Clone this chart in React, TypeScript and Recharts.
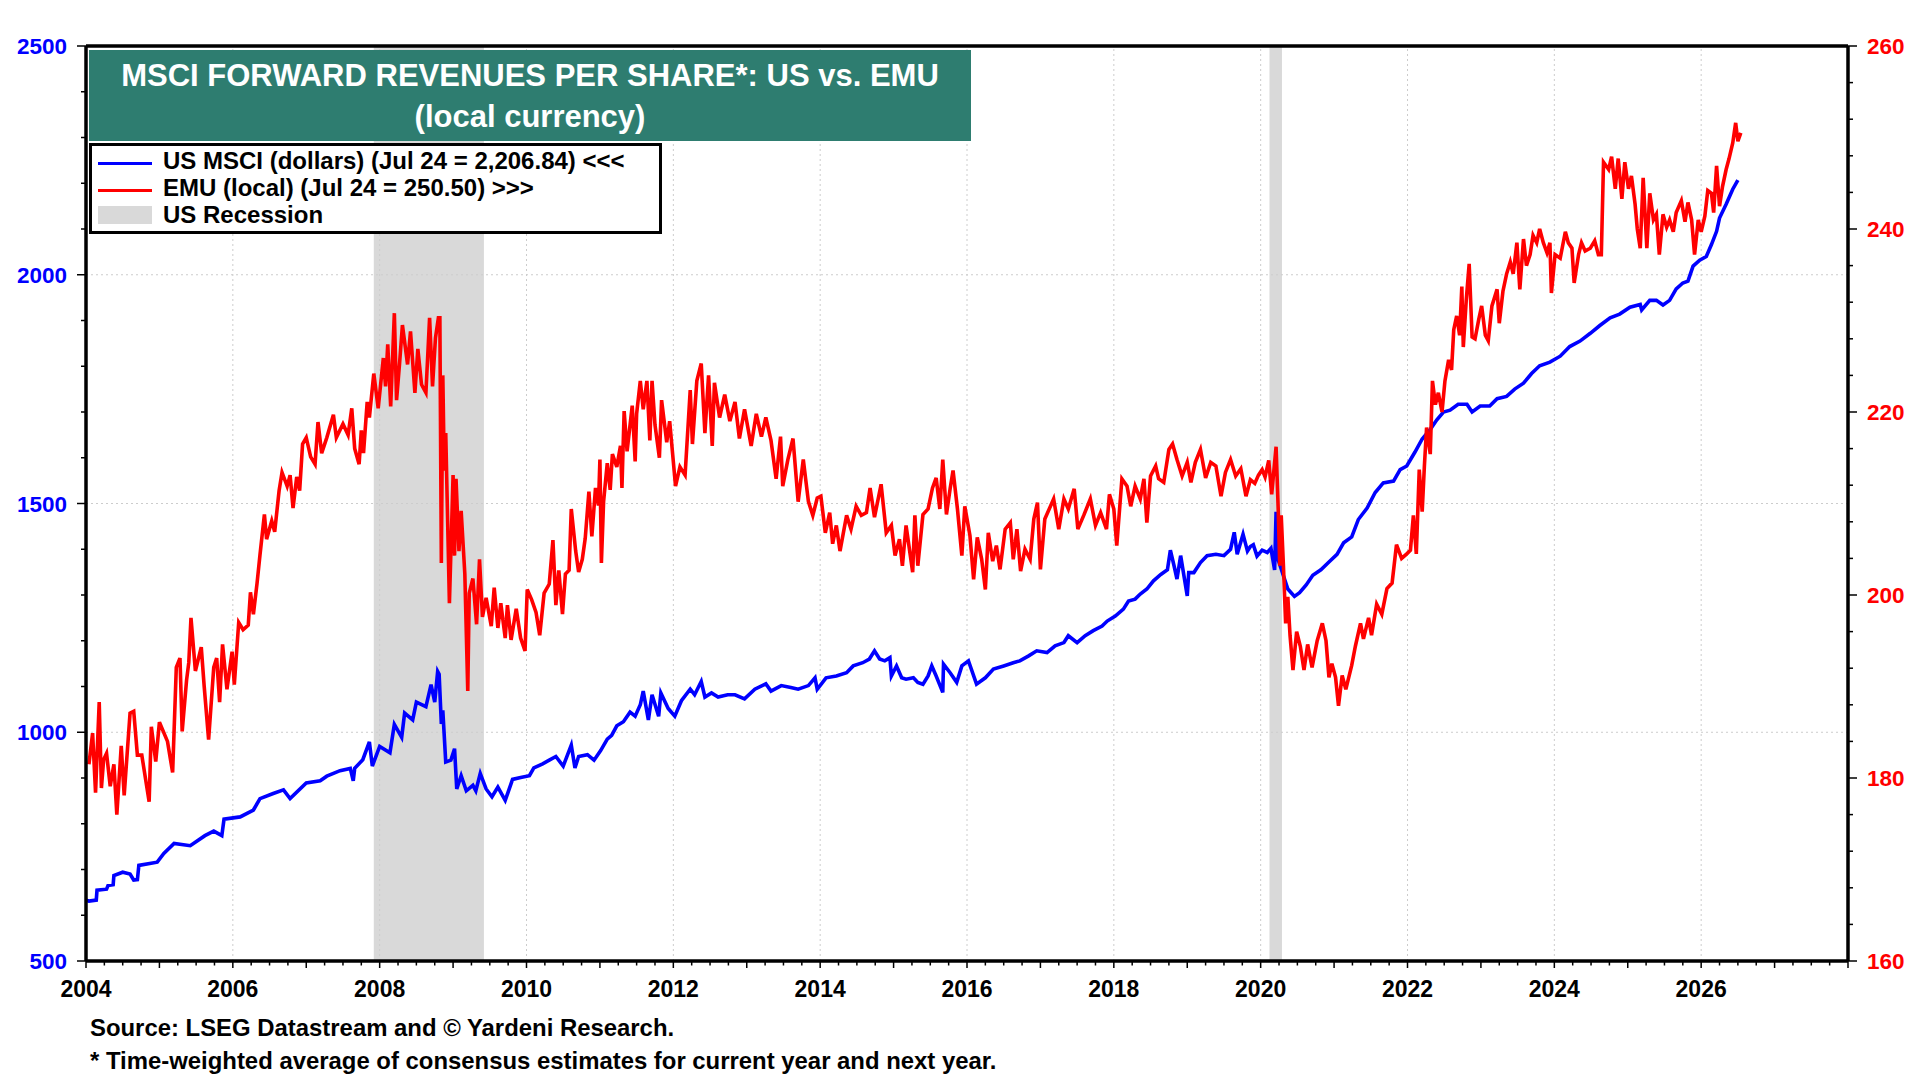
import React from 'react';
import { ComposedChart, Line, XAxis, YAxis, ReferenceArea, ReferenceLine } from 'recharts';

// US MSCI forward revenues per share (dollars), [decimal year, value]
const usPoints: [number, number][] = [
  [2004.0, 633], [2004.04, 631], [2004.14, 633], [2004.15, 655], [2004.28, 657], [2004.3, 665],
  [2004.37, 667], [2004.38, 687], [2004.5, 694], [2004.6, 690], [2004.65, 677], [2004.7, 678],
  [2004.72, 709], [2004.97, 716], [2005.06, 735], [2005.2, 757], [2005.42, 752], [2005.62, 774],
  [2005.74, 784], [2005.85, 774], [2005.88, 810], [2006.1, 815], [2006.28, 830], [2006.37, 855],
  [2006.55, 866], [2006.69, 874], [2006.78, 855], [2007.0, 889], [2007.19, 894], [2007.28, 904],
  [2007.46, 916], [2007.6, 921], [2007.64, 894], [2007.66, 921], [2007.77, 940], [2007.86, 979],
  [2007.9, 926], [2008.0, 969], [2008.14, 955], [2008.2, 1017], [2008.3, 989], [2008.34, 1042],
  [2008.45, 1027], [2008.5, 1066], [2008.63, 1056], [2008.7, 1104], [2008.75, 1066], [2008.79, 1133],
  [2008.81, 1127], [2008.84, 1018], [2008.86, 1048], [2008.9, 935], [2008.97, 939], [2009.02, 964],
  [2009.05, 876], [2009.11, 905], [2009.18, 872], [2009.27, 884], [2009.31, 872], [2009.37, 910],
  [2009.45, 876], [2009.53, 859], [2009.61, 880], [2009.71, 851], [2009.81, 897], [2009.92, 901],
  [2010.04, 905], [2010.1, 922], [2010.22, 931], [2010.31, 939], [2010.4, 947], [2010.5, 926],
  [2010.56, 951], [2010.61, 972], [2010.66, 922], [2010.71, 947], [2010.83, 951], [2010.92, 939],
  [2011.01, 960], [2011.1, 985], [2011.16, 993], [2011.23, 1014], [2011.32, 1023], [2011.41, 1044],
  [2011.48, 1035], [2011.55, 1060], [2011.59, 1090], [2011.66, 1027], [2011.71, 1082], [2011.8, 1035],
  [2011.83, 1086], [2011.93, 1052], [2012.02, 1035], [2012.11, 1069], [2012.23, 1094], [2012.29, 1082],
  [2012.38, 1111], [2012.43, 1077], [2012.52, 1086], [2012.61, 1077], [2012.74, 1082], [2012.84, 1082],
  [2012.97, 1073], [2013.11, 1094], [2013.26, 1106], [2013.33, 1090], [2013.47, 1102], [2013.6, 1098],
  [2013.7, 1094], [2013.84, 1102], [2013.93, 1119], [2013.96, 1094],
  [2014.08, 1119], [2014.22, 1123], [2014.36, 1130], [2014.45, 1145], [2014.58, 1152], [2014.67, 1160],
  [2014.74, 1178], [2014.81, 1160], [2014.88, 1156], [2014.95, 1163], [2014.97, 1123], [2015.04, 1145],
  [2015.11, 1119], [2015.17, 1116], [2015.27, 1119], [2015.33, 1109], [2015.4, 1105], [2015.47, 1123],
  [2015.52, 1145], [2015.58, 1123], [2015.67, 1087], [2015.68, 1149], [2015.77, 1130], [2015.86, 1109],
  [2015.93, 1145], [2016.02, 1156], [2016.13, 1105], [2016.25, 1119], [2016.36, 1138], [2016.5, 1145],
  [2016.63, 1152], [2016.72, 1156], [2016.84, 1167], [2016.95, 1178], [2017.09, 1174], [2017.2, 1189],
  [2017.32, 1196], [2017.38, 1211], [2017.5, 1196], [2017.61, 1211], [2017.72, 1222], [2017.84, 1232],
  [2017.91, 1243], [2018.02, 1254], [2018.13, 1269], [2018.2, 1287], [2018.29, 1291], [2018.36, 1302],
  [2018.45, 1313], [2018.54, 1331], [2018.64, 1345], [2018.73, 1355], [2018.77, 1398], [2018.82, 1364],
  [2018.86, 1335], [2018.91, 1386], [2019.0, 1298], [2019.02, 1349], [2019.09, 1349], [2019.18, 1371],
  [2019.27, 1386], [2019.39, 1389], [2019.5, 1386], [2019.59, 1400], [2019.64, 1437], [2019.68, 1389],
  [2019.76, 1433], [2019.82, 1396],
  [2019.86, 1406], [2019.9, 1410], [2019.95, 1385], [2020.02, 1398], [2020.09, 1393], [2020.14, 1402],
  [2020.19, 1355], [2020.21, 1482], [2020.23, 1381], [2020.3, 1347], [2020.37, 1313], [2020.46, 1297],
  [2020.53, 1305], [2020.62, 1322], [2020.71, 1343], [2020.82, 1355], [2020.93, 1372], [2021.04, 1389],
  [2021.13, 1414], [2021.24, 1427], [2021.33, 1465], [2021.45, 1490], [2021.56, 1524], [2021.67, 1545],
  [2021.81, 1549], [2021.9, 1574], [2021.99, 1582], [2022.1, 1612], [2022.2, 1641], [2022.31, 1662],
  [2022.4, 1683], [2022.49, 1700], [2022.58, 1704], [2022.69, 1717], [2022.81, 1717], [2022.88, 1700],
  [2022.99, 1713], [2023.12, 1713], [2023.22, 1729], [2023.35, 1734], [2023.46, 1750], [2023.58, 1763],
  [2023.69, 1784], [2023.8, 1801], [2023.94, 1809], [2024.08, 1822], [2024.21, 1843], [2024.35, 1855],
  [2024.49, 1872], [2024.62, 1889], [2024.76, 1906], [2024.89, 1914], [2025.03, 1929], [2025.17, 1935],
  [2025.19, 1923], [2025.3, 1944], [2025.39, 1944], [2025.48, 1934], [2025.57, 1944], [2025.66, 1969],
  [2025.75, 1982], [2025.82, 1986], [2025.89, 2019], [2025.98, 2032], [2026.07, 2040], [2026.14, 2066],
  [2026.21, 2095], [2026.25, 2124], [2026.34, 2154], [2026.43, 2187], [2026.5, 2207],
];

// EMU forward revenues per share (local currency), [decimal year, value]
const emuPoints: [number, number][] = [
  [2004.04, 181.5], [2004.09, 184.9], [2004.13, 178.4], [2004.18, 188.3], [2004.21, 178.9], [2004.24, 182],
  [2004.28, 182.7], [2004.33, 179.1], [2004.38, 181.5], [2004.42, 176], [2004.48, 183.5], [2004.52, 178.1],
  [2004.6, 187.1], [2004.65, 187.3], [2004.7, 182.5], [2004.76, 182.5], [2004.86, 177.4], [2004.89, 185.6],
  [2004.95, 181.8], [2005.0, 186.1], [2005.11, 184], [2005.18, 180.6], [2005.23, 192.1], [2005.28, 193.1],
  [2005.31, 185.1], [2005.37, 190.7], [2005.4, 192.6], [2005.43, 197.5], [2005.49, 191.7], [2005.57, 194.3],
  [2005.61, 190], [2005.67, 184.2], [2005.74, 192.1], [2005.78, 193.1], [2005.82, 188.3], [2005.86, 194.6],
  [2005.92, 189.7], [2005.99, 193.8], [2006.02, 190.2], [2006.08, 197], [2006.14, 196.2], [2006.21, 196.7],
  [2006.24, 200.3], [2006.28, 197.9], [2006.33, 201.3], [2006.37, 204.4], [2006.43, 208.8], [2006.46, 206.1],
  [2006.53, 208.1], [2006.57, 206.9], [2006.63, 211.4], [2006.67, 213.4], [2006.74, 211.9], [2006.78, 213.1],
  [2006.82, 209.5], [2006.87, 212.9], [2006.91, 211.4], [2006.95, 216.5], [2007.0, 217.2], [2007.06, 215.1],
  [2007.12, 214.3], [2007.16, 218.9], [2007.21, 215.5], [2007.28, 217.2], [2007.37, 219.7], [2007.41, 217.2],
  [2007.5, 218.7], [2007.57, 217.5], [2007.62, 220.4], [2007.66, 216], [2007.72, 214.3], [2007.75, 218],
  [2007.78, 215.5], [2007.83, 221.1], [2007.86, 219.4], [2007.92, 224.2], [2007.98, 220.4], [2008.05, 225.9],
  [2008.08, 222.8], [2008.11, 227.4], [2008.15, 220.6], [2008.2, 230.8], [2008.23, 221.3], [2008.27, 225.2],
  [2008.31, 229.5], [2008.38, 225.2], [2008.42, 228.8], [2008.48, 222.1], [2008.52, 226.9], [2008.57, 223],
  [2008.63, 222.1], [2008.68, 230.3], [2008.72, 222.8], [2008.76, 228.1], [2008.8, 230.3],
  [2008.82, 230.3], [2008.84, 203.5], [2008.86, 224], [2008.88, 213.6], [2008.9, 217.7], [2008.95, 199.1],
  [2009.0, 213.1], [2009.02, 204.3], [2009.04, 212.7], [2009.08, 204.8], [2009.11, 209.2], [2009.16, 202.3],
  [2009.2, 189.5], [2009.22, 200.2], [2009.27, 201.8], [2009.32, 196.8], [2009.36, 203.9], [2009.4, 197.6],
  [2009.45, 199.7], [2009.52, 196.6], [2009.56, 200.8], [2009.61, 196.4], [2009.65, 199.1], [2009.71, 195.3],
  [2009.74, 198.9], [2009.79, 195.1], [2009.86, 198.5], [2009.92, 195.3], [2009.98, 193.9], [2010.01, 200.6],
  [2010.07, 199.5], [2010.13, 198.1], [2010.18, 195.6], [2010.24, 200.2], [2010.31, 201.2], [2010.36, 206],
  [2010.4, 198.9], [2010.44, 202.7], [2010.49, 197.9], [2010.53, 202.3], [2010.58, 202.7], [2010.61, 209.4],
  [2010.67, 204.8], [2010.71, 202.5], [2010.76, 203.9], [2010.8, 206.2], [2010.85, 211.3], [2010.89, 206.4],
  [2010.94, 211.7], [2010.98, 209.8], [2011.0, 214.8], [2011.02, 203.5], [2011.05, 210.2], [2011.1, 214.4],
  [2011.14, 211.5], [2011.17, 215.4], [2011.23, 214], [2011.28, 216.3], [2011.3, 211.7], [2011.33, 220.1],
  [2011.37, 215.7], [2011.44, 220.7], [2011.48, 214.6], [2011.5, 219.8], [2011.55, 223.4], [2011.59, 220.3],
  [2011.64, 223.4], [2011.68, 216.9], [2011.71, 223.4], [2011.75, 218.6], [2011.81, 215], [2011.84, 221.3],
  [2011.91, 216.7], [2011.95, 219], [2012.03, 211.9], [2012.09, 214], [2012.16, 213.1], [2012.23, 222.4],
  [2012.26, 216.5], [2012.32, 223.4], [2012.38, 225.3], [2012.43, 217.7], [2012.48, 224], [2012.53, 216.3],
  [2012.56, 223.2], [2012.63, 219.4], [2012.7, 221.9], [2012.77, 219], [2012.84, 221.1], [2012.9, 217.1],
  [2012.97, 220.3], [2013.06, 216.3], [2013.13, 219.8], [2013.2, 217.3], [2013.26, 219.4], [2013.33, 216.9],
  [2013.4, 212.7], [2013.46, 217.3], [2013.49, 211.9], [2013.56, 214.8], [2013.63, 217.1], [2013.7, 210.2],
  [2013.77, 214.8], [2013.84, 210.2], [2013.9, 208.7], [2013.96, 210.6],
  [2014.01, 210.8], [2014.07, 206.8], [2014.13, 209], [2014.17, 205.6], [2014.22, 207.6], [2014.27, 204.8],
  [2014.36, 208.7], [2014.42, 207.2], [2014.49, 209.7], [2014.56, 208.7], [2014.63, 209], [2014.68, 211.7],
  [2014.74, 208.5], [2014.83, 212.1], [2014.9, 206.8], [2014.97, 207.6], [2015.02, 204.3], [2015.08, 206.1],
  [2015.12, 203.2], [2015.17, 207.6], [2015.26, 202.5], [2015.29, 208.7], [2015.33, 203.2], [2015.4, 208.8],
  [2015.47, 209.4], [2015.53, 211.7], [2015.58, 212.8], [2015.63, 209.4], [2015.67, 214.8], [2015.72, 208.8],
  [2015.77, 211.6], [2015.81, 213.6], [2015.87, 209.4], [2015.93, 204.3], [2015.97, 209.7], [2016.04, 206.5],
  [2016.09, 201.7], [2016.14, 206.3], [2016.2, 203.9], [2016.25, 200.6], [2016.29, 206.8], [2016.35, 203.7],
  [2016.4, 205.4], [2016.45, 202.8], [2016.52, 207.2], [2016.59, 207.9], [2016.63, 203.9], [2016.68, 207.2],
  [2016.73, 202.6], [2016.79, 205], [2016.86, 203.9], [2016.91, 208.3], [2016.96, 210.1], [2017.0, 202.8],
  [2017.06, 208.3], [2017.18, 210.5], [2017.25, 207.2], [2017.32, 210.5], [2017.38, 209.4], [2017.46, 211.6],
  [2017.51, 207.2], [2017.59, 208.7], [2017.68, 210.5], [2017.75, 207.6], [2017.82, 209], [2017.9, 207.2],
  [2017.94, 211], [2018.0, 209.4], [2018.04, 205.4], [2018.11, 212.7], [2018.18, 211.9], [2018.23, 209.7],
  [2018.29, 211.9], [2018.36, 210.5], [2018.41, 212.7], [2018.45, 207.9], [2018.5, 213], [2018.57, 214.1],
  [2018.61, 212.7], [2018.68, 212.3], [2018.75, 215.9], [2018.8, 216.5], [2018.86, 214.8], [2018.93, 213],
  [2019.0, 214.5], [2019.05, 212.3], [2019.11, 214.5], [2019.18, 215.9], [2019.25, 212.8], [2019.32, 214.5],
  [2019.39, 214.1], [2019.46, 210.8], [2019.52, 213.4], [2019.59, 214.8], [2019.66, 213], [2019.73, 213.8],
  [2019.8, 210.8],
  [2019.86, 212.6], [2019.92, 212.2], [2019.97, 213.1], [2020.02, 213.7], [2020.06, 212.9], [2020.11, 214.7],
  [2020.15, 211], [2020.21, 216.2], [2020.24, 209.1], [2020.26, 203.2], [2020.28, 208.7], [2020.31, 203.2],
  [2020.34, 196.9], [2020.37, 199.8], [2020.4, 195.6], [2020.44, 191.8], [2020.49, 196], [2020.54, 194.4],
  [2020.59, 191.8], [2020.64, 194.6], [2020.7, 192.1], [2020.77, 195], [2020.84, 196.9], [2020.89, 195],
  [2020.93, 191], [2020.97, 192.5], [2021.02, 191], [2021.06, 187.9], [2021.11, 191.2], [2021.16, 189.7],
  [2021.2, 191], [2021.24, 192.3], [2021.29, 194.4], [2021.36, 196.9], [2021.4, 195.2], [2021.47, 197.5],
  [2021.51, 195.6], [2021.58, 199], [2021.65, 197.9], [2021.72, 200.7], [2021.79, 201.3], [2021.85, 205.5],
  [2021.92, 204], [2021.99, 204.5], [2022.04, 204.9], [2022.08, 208.7], [2022.12, 204.5], [2022.16, 213.7],
  [2022.2, 209.1], [2022.23, 214.1], [2022.26, 218.3], [2022.31, 215.4], [2022.34, 223.4], [2022.38, 220.8],
  [2022.42, 222.1], [2022.47, 220], [2022.51, 223.4], [2022.56, 225.7], [2022.6, 224.6], [2022.63, 229],
  [2022.67, 230.5], [2022.71, 228.4], [2022.74, 233.7], [2022.76, 227.1], [2022.8, 232.2], [2022.84, 236.2],
  [2022.88, 228.2], [2022.92, 228], [2022.97, 230.1], [2023.01, 231.6], [2023.06, 228.4], [2023.1, 227.8],
  [2023.15, 231.6], [2023.22, 233.4], [2023.25, 229.7], [2023.3, 233.2], [2023.35, 235.1], [2023.4, 236.4],
  [2023.44, 235.1], [2023.49, 238.5], [2023.53, 233.4], [2023.58, 238.9], [2023.62, 236], [2023.67, 237.2],
  [2023.71, 239.3], [2023.76, 238.5], [2023.8, 240], [2023.85, 238.5], [2023.9, 237.4], [2023.94, 238.5],
  [2023.96, 233], [2024.01, 237.2], [2024.08, 236.8], [2024.15, 239.7], [2024.19, 238.5], [2024.24, 237.9],
  [2024.27, 234.1], [2024.33, 237.2], [2024.37, 238.5], [2024.42, 237.6], [2024.49, 237.9], [2024.55, 238.7],
  [2024.6, 237.2], [2024.64, 237.2], [2024.67, 247.3], [2024.74, 246.5], [2024.78, 247.9], [2024.83, 244.4],
  [2024.87, 247.7], [2024.92, 243.3], [2024.96, 247.3], [2025.01, 244.4], [2025.05, 245.8], [2025.1, 242.7],
  [2025.13, 240], [2025.17, 237.9], [2025.21, 245.6], [2025.26, 237.9], [2025.3, 243.9], [2025.35, 241],
  [2025.39, 241.6], [2025.43, 237.2], [2025.48, 241.6], [2025.53, 240.2], [2025.57, 241], [2025.62, 239.7],
  [2025.66, 241.8], [2025.73, 243.1], [2025.78, 240.8], [2025.82, 242.9], [2025.87, 241], [2025.91, 237.2],
  [2025.96, 241], [2026.0, 239.7], [2026.05, 241.4], [2026.09, 244.2], [2026.14, 243.9], [2026.17, 241.8],
  [2026.21, 246.9], [2026.25, 242.5], [2026.29, 244.6], [2026.34, 246.5], [2026.38, 247.7], [2026.43, 249.4],
  [2026.47, 251.6], [2026.5, 249.6], [2026.54, 250.5],
];

// US recessions: [start, end] in decimal years
const recessions: [number, number][] = [
  [2007.92, 2009.42],
  [2020.12, 2020.29],
];

const yearLabels = [2004, 2006, 2008, 2010, 2012, 2014, 2016, 2018, 2020, 2022, 2024, 2026];
const usAxisLabels = [500, 1000, 1500, 2000, 2500];
const emuAxisLabels = [160, 180, 200, 220, 240, 260];

const gridYears = [2006, 2008, 2010, 2012, 2014, 2016, 2018, 2020, 2022, 2024, 2026];
const gridUs = [1000, 1500, 2000];

const xTicks: number[] = [];
for (let q = 2004; q <= 2028.001; q += 0.25) xTicks.push(Math.round(q * 100) / 100);
const usTicks: number[] = [];
for (let v = 500; v <= 2500; v += 100) usTicks.push(v);
const emuTicks: number[] = [];
for (let v = 160; v <= 260; v += 4) emuTicks.push(v);

const usData = usPoints.map(([x, v]) => ({ x, v }));
const emuData = emuPoints.map(([x, v]) => ({ x, v }));

const FONT = "'Liberation Sans', Arial, Helvetica, sans-serif";
const BLUE = '#0000ff';
const RED = '#ff0000';
const TEAL = '#2e7d70';

const XTick = (props: any) => {
  const { x, y, payload } = props;
  const value = Math.round(payload.value * 100) / 100;
  const isYear = Number.isInteger(value);
  const labelled = yearLabels.includes(value);
  return (
    <g>
      <line x1={x} y1={y} x2={x} y2={y + (isYear ? 7 : 4.5)} stroke="#000" strokeWidth={1.5} />
      {labelled && (
        <text x={x} y={y + 36} textAnchor="middle" fontFamily={FONT} fontWeight="bold" fontSize={23} fill="#000">
          {value}
        </text>
      )}
    </g>
  );
};

const LeftTick = (props: any) => {
  const { x, y, payload } = props;
  const labelled = usAxisLabels.includes(payload.value);
  return (
    <g>
      <line x1={x} y1={y} x2={x - (labelled ? 9 : 5)} y2={y} stroke="#000" strokeWidth={1.5} />
      {labelled && (
        <text x={x - 19} y={y + 8} textAnchor="end" fontFamily={FONT} fontWeight="bold" fontSize={22.5} fill={BLUE}>
          {payload.value}
        </text>
      )}
    </g>
  );
};

const RightTick = (props: any) => {
  const { x, y, payload } = props;
  const labelled = emuAxisLabels.includes(payload.value);
  return (
    <g>
      <line x1={x} y1={y} x2={x + (labelled ? 9 : 5)} y2={y} stroke="#000" strokeWidth={1.5} />
      {labelled && (
        <text x={x + 19} y={y + 8} textAnchor="start" fontFamily={FONT} fontWeight="bold" fontSize={22.5} fill={RED}>
          {payload.value}
        </text>
      )}
    </g>
  );
};

export default function App() {
  return (
    <div
      style={{
        position: 'absolute',
        left: 0,
        top: 0,
        width: 1920,
        height: 1080,
        background: '#fff',
        fontFamily: FONT,
        fontWeight: 'bold',
        overflow: 'hidden',
      }}
    >
      <ComposedChart width={1920} height={1080} margin={{ top: 46, right: 2, bottom: 79, left: 6 }}>
        <XAxis
          type="number"
          dataKey="x"
          domain={[2004, 2028]}
          allowDataOverflow
          ticks={xTicks}
          interval={0}
          tick={<XTick />}
          tickLine={false}
          tickSize={0}
          tickMargin={0}
          height={40}
          axisLine={{ stroke: '#000', strokeWidth: 3.5 }}
        />
        <YAxis
          yAxisId="left"
          orientation="left"
          domain={[500, 2500]}
          allowDataOverflow
          ticks={usTicks}
          interval={0}
          tick={<LeftTick />}
          tickLine={false}
          tickSize={0}
          tickMargin={0}
          width={80}
          axisLine={{ stroke: '#000', strokeWidth: 3.5 }}
        />
        <YAxis
          yAxisId="right"
          orientation="right"
          domain={[160, 260]}
          allowDataOverflow
          ticks={emuTicks}
          interval={0}
          tick={<RightTick />}
          tickLine={false}
          tickSize={0}
          tickMargin={0}
          width={70}
          axisLine={{ stroke: '#000', strokeWidth: 3.5 }}
        />
        {recessions.map(([a, b]) => (
          <ReferenceArea key={a} yAxisId="left" x1={a} x2={b} y1={500} y2={2500} fill="#d9d9d9" fillOpacity={1} stroke="none" />
        ))}
        {gridYears.map((yr) => (
          <ReferenceLine key={`gx${yr}`} yAxisId="left" x={yr} stroke="#cccccc" strokeWidth={1} strokeDasharray="2 3" />
        ))}
        {gridUs.map((v) => (
          <ReferenceLine key={`gy${v}`} yAxisId="left" y={v} stroke="#cccccc" strokeWidth={1} strokeDasharray="2 3" />
        ))}
        <Line
          data={usData}
          yAxisId="left"
          dataKey="v"
          type="linear"
          stroke={BLUE}
          strokeWidth={3.6}
          dot={false}
          activeDot={false}
          isAnimationActive={false}
        />
        <Line
          data={emuData}
          yAxisId="right"
          dataKey="v"
          type="linear"
          stroke={RED}
          strokeWidth={3.6}
          dot={false}
          activeDot={false}
          isAnimationActive={false}
        />
        <ReferenceLine yAxisId="left" y={2500} stroke="#000" strokeWidth={3.5} />
      </ComposedChart>

      <div
        style={{
          position: 'absolute',
          left: 89,
          top: 50,
          width: 882,
          height: 91,
          boxSizing: 'border-box',
          paddingTop: 5,
          background: TEAL,
          color: '#fff',
          fontSize: 31,
          lineHeight: '41px',
          textAlign: 'center',
        }}
      >
        <div>MSCI FORWARD REVENUES PER SHARE*: US vs. EMU</div>
        <div>(local currency)</div>
      </div>

      <div
        style={{
          position: 'absolute',
          left: 89,
          top: 143,
          width: 573,
          height: 91,
          boxSizing: 'border-box',
          border: '3px solid #000',
          background: '#fff',
        }}
      >
        <div style={{ position: 'absolute', left: 6, top: 16, width: 54, height: 3, background: BLUE }} />
        <div style={{ position: 'absolute', left: 6, top: 42.5, width: 54, height: 3, background: RED }} />
        <div style={{ position: 'absolute', left: 6, top: 60, width: 54, height: 18, background: '#d9d9d9' }} />
        <div
          style={{
            position: 'absolute',
            left: 71,
            top: 1,
            fontSize: 24,
            lineHeight: '27px',
            color: '#000',
            whiteSpace: 'nowrap',
          }}
        >
          <div>{'US MSCI (dollars) (Jul 24 = 2,206.84) <<<'}</div>
          <div>{'EMU (local) (Jul 24 = 250.50) >>>'}</div>
          <div>US Recession</div>
        </div>
      </div>

      <div
        style={{
          position: 'absolute',
          left: 90,
          top: 1011,
          fontSize: 23.9,
          lineHeight: '33px',
          color: '#000',
          whiteSpace: 'nowrap',
        }}
      >
        <div>Source: LSEG Datastream and © Yardeni Research.</div>
        <div>* Time-weighted average of consensus estimates for current year and next year.</div>
      </div>
    </div>
  );
}
